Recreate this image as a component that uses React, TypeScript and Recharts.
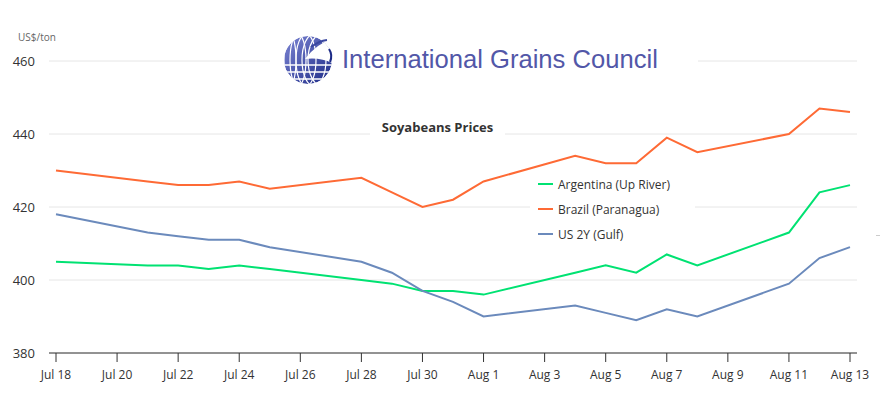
import React from 'react';
import { LineChart, Line, XAxis, YAxis, CartesianGrid } from 'recharts';

const dates = [
  'Jul 18', 'Jul 21', 'Jul 22', 'Jul 23', 'Jul 24', 'Jul 25', 'Jul 28', 'Jul 29', 'Jul 30', 'Jul 31',
  'Aug 1', 'Aug 4', 'Aug 5', 'Aug 6', 'Aug 7', 'Aug 8', 'Aug 11', 'Aug 12', 'Aug 13',
];
const argentina = [405, 404, 404, 403, 404, 403, 400, 399, 397, 397, 396, 402, 404, 402, 407, 404, 413, 424, 426];
const brazil = [430, 427, 426, 426, 427, 425, 428, 424, 420, 422, 427, 434, 432, 432, 439, 435, 440, 447, 446];
const us2y = [418, 413, 412, 411, 411, 409, 405, 402, 397, 394, 390, 393, 391, 389, 392, 390, 399, 406, 409];

const xTickLabels = [
  'Jul 18', 'Jul 20', 'Jul 22', 'Jul 24', 'Jul 26', 'Jul 28', 'Jul 30',
  'Aug 1', 'Aug 3', 'Aug 5', 'Aug 7', 'Aug 9', 'Aug 11', 'Aug 13',
];
const yTicks = [380, 400, 420, 440, 460];

const seriesInfo = [
  { key: 'argentina', name: 'Argentina (Up River)', color: '#00e272' },
  { key: 'brazil', name: 'Brazil (Paranagua)', color: '#fe6a35' },
  { key: 'us2y', name: 'US 2Y (Gulf)', color: '#6b8abc' },
];

// day offset from Jul 18
const toDay = (s: string) => {
  const [m, d] = s.split(' ');
  return (m === 'Aug' ? 31 : 0) + Number(d) - 18;
};

const data = dates.map((d, i) => ({
  day: toDay(d),
  argentina: argentina[i],
  brazil: brazil[i],
  us2y: us2y[i],
}));

const xTicks = xTickLabels.map(toDay);
const labelFor: Record<number, string> = {};
xTickLabels.forEach((l) => { labelFor[toDay(l)] = l; });

const FONT = '"Open Sans", "Noto Sans", sans-serif';

const Globe = () => (
  <svg width={52} height={52} style={{ position: 'absolute', left: 13, top: 5 }}>
    <defs>
      <linearGradient id="gl" x1="0" y1="0" x2="1" y2="1">
        <stop offset="0%" stopColor="#7d86d4" />
        <stop offset="100%" stopColor="#1c2a86" />
      </linearGradient>
      <clipPath id="gc">
        <circle cx={25} cy={25} r={24} />
      </clipPath>
    </defs>
    <g clipPath="url(#gc)">
      <circle cx={25} cy={25} r={24} fill="url(#gl)" />
      {[-18, -10, -2, 6, 14].map((o, i) => (
        <ellipse key={'m' + i} cx={25 + o} cy={25} rx={6 + i * 2} ry={26} fill="none" stroke="#fff" strokeWidth={1.2} />
      ))}
      {[30, 37, 44].map((y, i) => (
        <line key={'l' + i} x1={0} x2={52} y1={y} y2={y} stroke="#fff" strokeWidth={1.6} />
      ))}
      <path d="M22 24 Q36 6 52 4 L52 30 Q40 22 22 24 Z" fill="#fff" />
    </g>
    <path d="M28 12 Q36 6 44 5" stroke="#3a47a0" strokeWidth={2} fill="none" />
    <path d="M46 14 Q50 20 47 27" stroke="#1c2a86" strokeWidth={2} fill="none" />
  </svg>
);

const Logo = () => (
  <div style={{ position: 'absolute', left: 270, top: 30, width: 428, height: 60, background: '#fff' }}>
    <Globe />
    <div
      style={{
        position: 'absolute', left: 72, top: 14, fontFamily: 'Arial, "Liberation Sans", sans-serif',
        fontSize: 25.6, color: '#5257a8', whiteSpace: 'nowrap', lineHeight: '30px',
      }}
    >
      International Grains Council
    </div>
  </div>
);

const LegendBox = () => (
  <div style={{ position: 'absolute', left: 530, top: 172, width: 165, height: 74, background: '#fff', fontFamily: FONT, fontSize: 12, color: '#333' }}>
    {seriesInfo.map((s, i) => (
      <div key={s.key} style={{ position: 'absolute', left: 8, top: 4 + i * 25, height: 16, display: 'flex', alignItems: 'center', whiteSpace: 'nowrap' }}>
        <span style={{ display: 'inline-block', width: 15, height: 2, background: s.color, marginRight: 5 }} />
        {s.name}
      </div>
    ))}
  </div>
);

export default function App() {
  return (
    <div style={{ position: 'absolute', left: 0, top: 0, width: 881, height: 399, background: '#fff', fontFamily: FONT }}>
      <LineChart width={881} height={399} data={data} margin={{ top: 61, right: 24, bottom: 10, left: 0 }}>
        <CartesianGrid horizontal vertical={false} stroke="#e6e6e6" />
        <XAxis
          dataKey="day"
          type="number"
          domain={[0, 26]}
          ticks={xTicks}
          tickFormatter={(v: number) => labelFor[v] ?? ''}
          padding={{ left: 7, right: 7 }}
          height={36}
          stroke="#333"
          tickSize={9}
          tickMargin={8}
          tick={{ fill: '#333', fontSize: 12 }}
          interval={0}
        />
        <YAxis
          domain={[380, 460]}
          ticks={yTicks}
          width={49}
          axisLine={false}
          tickLine={false}
          tickSize={0}
          tickMargin={14}
          tick={{ fill: '#333', fontSize: 13 }}
        />
        {seriesInfo.map((s) => (
          <Line
            key={s.key}
            type="linear"
            dataKey={s.key}
            name={s.name}
            stroke={s.color}
            strokeWidth={2}
            dot={false}
            isAnimationActive={false}
          />
        ))}
      </LineChart>
      <div style={{ position: 'absolute', left: 18, top: 30, fontSize: 10, color: '#666' }}>US$/ton</div>
      <Logo />
      <div style={{ position: 'absolute', left: 370, top: 117, width: 135, height: 20, background: '#fff', textAlign: 'center', fontWeight: 'bold', fontSize: 13, color: '#333', lineHeight: '20px' }}>
        Soyabeans Prices
      </div>
      <LegendBox />
      <div style={{ position: 'absolute', left: 876, top: 235, width: 4, height: 1, background: '#ccc' }} />
    </div>
  );
}
